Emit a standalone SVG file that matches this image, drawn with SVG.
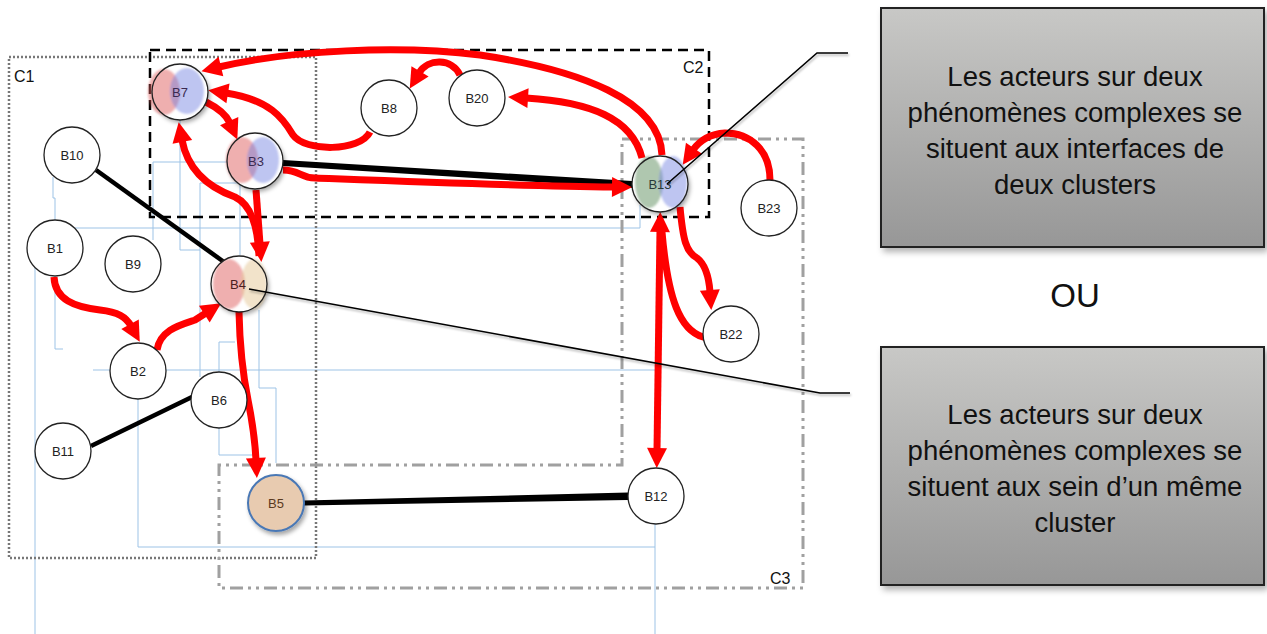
<svg xmlns="http://www.w3.org/2000/svg" width="1267" height="634" viewBox="0 0 1267 634">
<defs>
<style>
.bl{fill:none;stroke:#9dc3e6;stroke-width:1}
.nd{fill:#fff;stroke:#222;stroke-width:1.3}
.lb{font-family:"Liberation Sans",Arial,sans-serif;font-size:13px;fill:#222;text-anchor:middle}
.cl{font-family:"Liberation Sans",Arial,sans-serif;font-size:16px;fill:#111}
.rd{fill:none;stroke:#ff0000;stroke-width:7;stroke-linecap:round;stroke-linejoin:round}
.rdh{fill:none;stroke:#ff0000;stroke-width:7;stroke-linecap:butt;stroke-linejoin:round;marker-end:url(#ah)}
.bk{stroke:#000;stroke-width:4.5;fill:none}
.co{fill:none;stroke:#000;stroke-width:1.6;filter:url(#sh2)}
.bt{font-family:"Liberation Sans",Arial,sans-serif;font-size:27.5px;fill:#111;text-anchor:middle}
</style>
<marker id="ah" markerUnits="userSpaceOnUse" markerWidth="22" markerHeight="20" refX="2" refY="10" orient="auto" overflow="visible">
<path d="M0,0 L20,10 L0,20 z" fill="#ff0000"/>
</marker>
<marker id="ah2" markerUnits="userSpaceOnUse" markerWidth="22" markerHeight="20" refX="2" refY="10" orient="auto-start-reverse" overflow="visible">
<path d="M0,0 L20,10 L0,20 z" fill="#ff0000"/>
</marker>
<linearGradient id="gb" x1="0" y1="0" x2="0" y2="1">
<stop offset="0" stop-color="#c8c8c6"/>
<stop offset="1" stop-color="#979797"/>
</linearGradient>
<filter id="sh" x="-30%" y="-30%" width="160%" height="160%">
<feDropShadow dx="2" dy="3" stdDeviation="2" flood-color="#000" flood-opacity="0.35"/>
</filter>
<filter id="sh2" x="-10%" y="-10%" width="120%" height="130%">
<feDropShadow dx="1" dy="2" stdDeviation="1.2" flood-color="#000" flood-opacity="0.3"/>
</filter>
<filter id="bx" x="-10%" y="-10%" width="120%" height="120%">
<feDropShadow dx="3" dy="4" stdDeviation="3" flood-color="#000" flood-opacity="0.3"/>
</filter>
<filter id="bl1" x="-30%" y="-30%" width="160%" height="160%">
<feGaussianBlur stdDeviation="1.2"/>
</filter>
</defs>
<rect width="1267" height="634" fill="#fff"/>

<g id="background-lines">
<polyline class="bl" points="75,228 640,228 640,205"/>
<polyline class="bl" points="35,267 35,634"/>
<polyline class="bl" points="53,177 53,198 55,198 55,220"/>
<polyline class="bl" points="55,277 55,349 63,349"/>
<polyline class="bl" points="93,370 655,370"/>
<polyline class="bl" points="138,398 138,547 655,547"/>
<polyline class="bl" points="655,524 655,634"/>
<polyline class="bl" points="153,240 153,162 227,162"/>
<polyline class="bl" points="180,120 180,250 200,250"/>
<polyline class="bl" points="200,183 200,377"/>
<polyline class="bl" points="200,183 240,183 240,255"/>
<polyline class="bl" points="259,310 259,388 276,388 276,463"/>
<polyline class="bl" points="235,342 219,342 219,455 253,455"/>
</g>

<g id="clusters">
<rect id="C1" x="9" y="57" width="307" height="501" fill="none" stroke="#777" stroke-width="2.5" stroke-dasharray="2 2"/>
<text class="cl" x="14" y="82">C1</text>
<rect id="C2" x="150" y="50" width="559" height="167" fill="none" stroke="#000" stroke-width="2.5" stroke-dasharray="10 6"/>
<text class="cl" x="683" y="73">C2</text>
<polygon id="C3" points="622,139 803,139 803,588 219,588 219,465 622,465" fill="none" stroke="#a0a0a0" stroke-width="3" stroke-dasharray="13 5 3 5 3 5"/>
<text class="cl" x="770" y="584">C3</text>
</g>

<g id="connectors">
<line class="bk" x1="96" y1="170" x2="224" y2="262"/>
<polygon points="283,160 283,166 632,188 632,181" fill="#000"/>
<line class="bk" x1="91" y1="446" x2="192" y2="397"/>
<polygon points="304,500.5 304,505.5 628,500 628,492.5" fill="#000"/>

<path class="rdh" d="M662,155 C660,100 580,70 480,55 C400,45 290,50 219,67"/>
<path class="rdh" d="M642,158 C632,118 590,102 526,98"/>
<path class="rdh" d="M460,75 C452,58 428,58 419,73"/>
<path class="rdh" d="M370,132 C360,152 305,152 293,135 C283,118 270,100 226,93"/>
<path class="rdh" d="M206,102 C218,108 226,114 230,123"/>
<path class="rdh" d="M283,170 C300,170 300,178 315,178 C420,182 520,186 614,187"/>
<path class="rdh" d="M259,256 C258,230 252,205 235,197 C210,188 188,172 182,140"/>
<path class="rdh" d="M256,190 L260,244"/>
<path class="rdh" d="M54,277 C55,300 75,307 100,310 C118,312 126,317 131,326"/>
<path class="rdh" d="M157,350 C160,330 180,325 195,320 L206,313"/>
<path class="rdh" d="M239,312 C240,360 245,385 248,400 C252,420 255,440 256,460"/>
<path d="M657,450 L660,230" fill="none" stroke="#ff0000" stroke-width="7" marker-start="url(#ah2)" marker-end="url(#ah2)"/>
<path class="rdh" d="M680,207 C683,240 686,252 697,258 C706,265 709,278 710,292"/>
<path class="rd" d="M703,337 C680,330 668,300 662,232"/>
<path class="rdh" d="M770,180 C770,150 750,133 725,133 C710,134 700,140 693,150"/>
</g>

<g id="B10"><circle class="nd" cx="72" cy="155" r="28"/><text class="lb" x="72" y="160">B10</text></g>
<g id="B1"><circle class="nd" cx="55" cy="248" r="28"/><text class="lb" x="55" y="253">B1</text></g>
<g id="B9"><circle class="nd" cx="133" cy="264" r="28"/><text class="lb" x="133" y="269">B9</text></g>
<g id="B2"><circle class="nd" cx="138" cy="371" r="28"/><text class="lb" x="138" y="376">B2</text></g>
<g id="B6"><circle class="nd" cx="219" cy="400" r="28"/><text class="lb" x="219" y="405">B6</text></g>
<g id="B11"><circle class="nd" cx="63" cy="451" r="28"/><text class="lb" x="63" y="456">B11</text></g>
<g id="B8"><circle class="nd" cx="389" cy="108" r="28"/><text class="lb" x="389" y="113">B8</text></g>
<g id="B20"><circle class="nd" cx="477" cy="98" r="28"/><text class="lb" x="477" y="103">B20</text></g>
<g id="B23"><circle class="nd" cx="769" cy="208" r="28"/><text class="lb" x="769" y="213">B23</text></g>
<g id="B22"><circle class="nd" cx="731" cy="334" r="28"/><text class="lb" x="731" y="339">B22</text></g>
<g id="B12"><circle class="nd" cx="656" cy="496" r="28"/><text class="lb" x="656" y="501">B12</text></g>

<g id="B7">
<circle cx="180" cy="92" r="28" fill="#fff" filter="url(#sh)"/>
<g filter="url(#bl1)">
<ellipse cx="164" cy="92" rx="16" ry="23" fill="#e06060" fill-opacity="0.5"/>
<ellipse cx="187" cy="91" rx="17" ry="23" fill="#6f7fe0" fill-opacity="0.45"/>
</g>
<circle cx="180" cy="92" r="28" fill="none" stroke="#222" stroke-width="1.3"/>
<text class="lb" x="180" y="97" style="fill:#3a2a50">B7</text>
</g>
<g id="B3">
<circle cx="255" cy="161" r="28" fill="#fff" filter="url(#sh)"/>
<g filter="url(#bl1)">
<ellipse cx="242" cy="160" rx="16" ry="23" fill="#e06060" fill-opacity="0.5"/>
<ellipse cx="263" cy="160" rx="16" ry="23" fill="#6f7fe0" fill-opacity="0.45"/>
</g>
<circle cx="255" cy="161" r="28" fill="none" stroke="#222" stroke-width="1.3"/>
<text class="lb" x="256" y="166" style="fill:#3a2a50">B3</text>
</g>
<g id="B13">
<circle cx="660" cy="184" r="28" fill="#fff" filter="url(#sh)"/>
<g filter="url(#bl1)">
<ellipse cx="649" cy="182" rx="14" ry="26" fill="#5f8f5f" fill-opacity="0.5"/>
<ellipse cx="673" cy="182" rx="14" ry="26" fill="#6f7fe0" fill-opacity="0.45"/>
</g>
<circle cx="660" cy="184" r="28" fill="none" stroke="#222" stroke-width="1.3"/>
<text class="lb" x="660" y="189" style="fill:#2a3a3a">B13</text>
</g>
<g id="B4">
<circle cx="239" cy="284" r="28" fill="#fff" filter="url(#sh)"/>
<g filter="url(#bl1)">
<ellipse cx="229" cy="284" rx="16" ry="25" fill="#e06060" fill-opacity="0.5"/>
<ellipse cx="254" cy="284" rx="13" ry="25" fill="#e5c895" fill-opacity="0.5"/>
</g>
<circle cx="239" cy="284" r="28" fill="none" stroke="#222" stroke-width="1.3"/>
<text class="lb" x="238" y="289" style="fill:#4a2020">B4</text>
</g>
<g id="B5">
<circle cx="276" cy="503" r="28" fill="#e8cbb0" stroke="#4a78b5" stroke-width="2" filter="url(#sh)"/>
<text class="lb" x="276" y="508" style="fill:#5a3a20">B5</text>
</g>

<g id="callout-lines">
<polyline class="co" points="848,53 817,53 667,184"/>
<polyline class="co" points="249,289 820,393 850,393"/>
</g>

<g id="box1">
<rect x="881" y="8" width="383" height="239" fill="url(#gb)" stroke="#222" stroke-width="2" filter="url(#bx)"/>
<text class="bt" x="1075" y="86">Les acteurs sur deux</text>
<text class="bt" x="1075" y="122">phénomènes complexes se</text>
<text class="bt" x="1075" y="158">situent aux interfaces de</text>
<text class="bt" x="1075" y="194">deux clusters</text>
</g>
<g id="ou"><text x="1075" y="307" font-family="Liberation Sans, Arial, sans-serif" font-size="33" fill="#111" text-anchor="middle">OU</text></g>
<g id="box2">
<rect x="881" y="347" width="383" height="238" fill="url(#gb)" stroke="#222" stroke-width="2" filter="url(#bx)"/>
<text class="bt" x="1075" y="424">Les acteurs sur deux</text>
<text class="bt" x="1075" y="460">phénomènes complexes se</text>
<text class="bt" x="1075" y="496">situent aux sein d’un même</text>
<text class="bt" x="1075" y="532">cluster</text>
</g>
</svg>
